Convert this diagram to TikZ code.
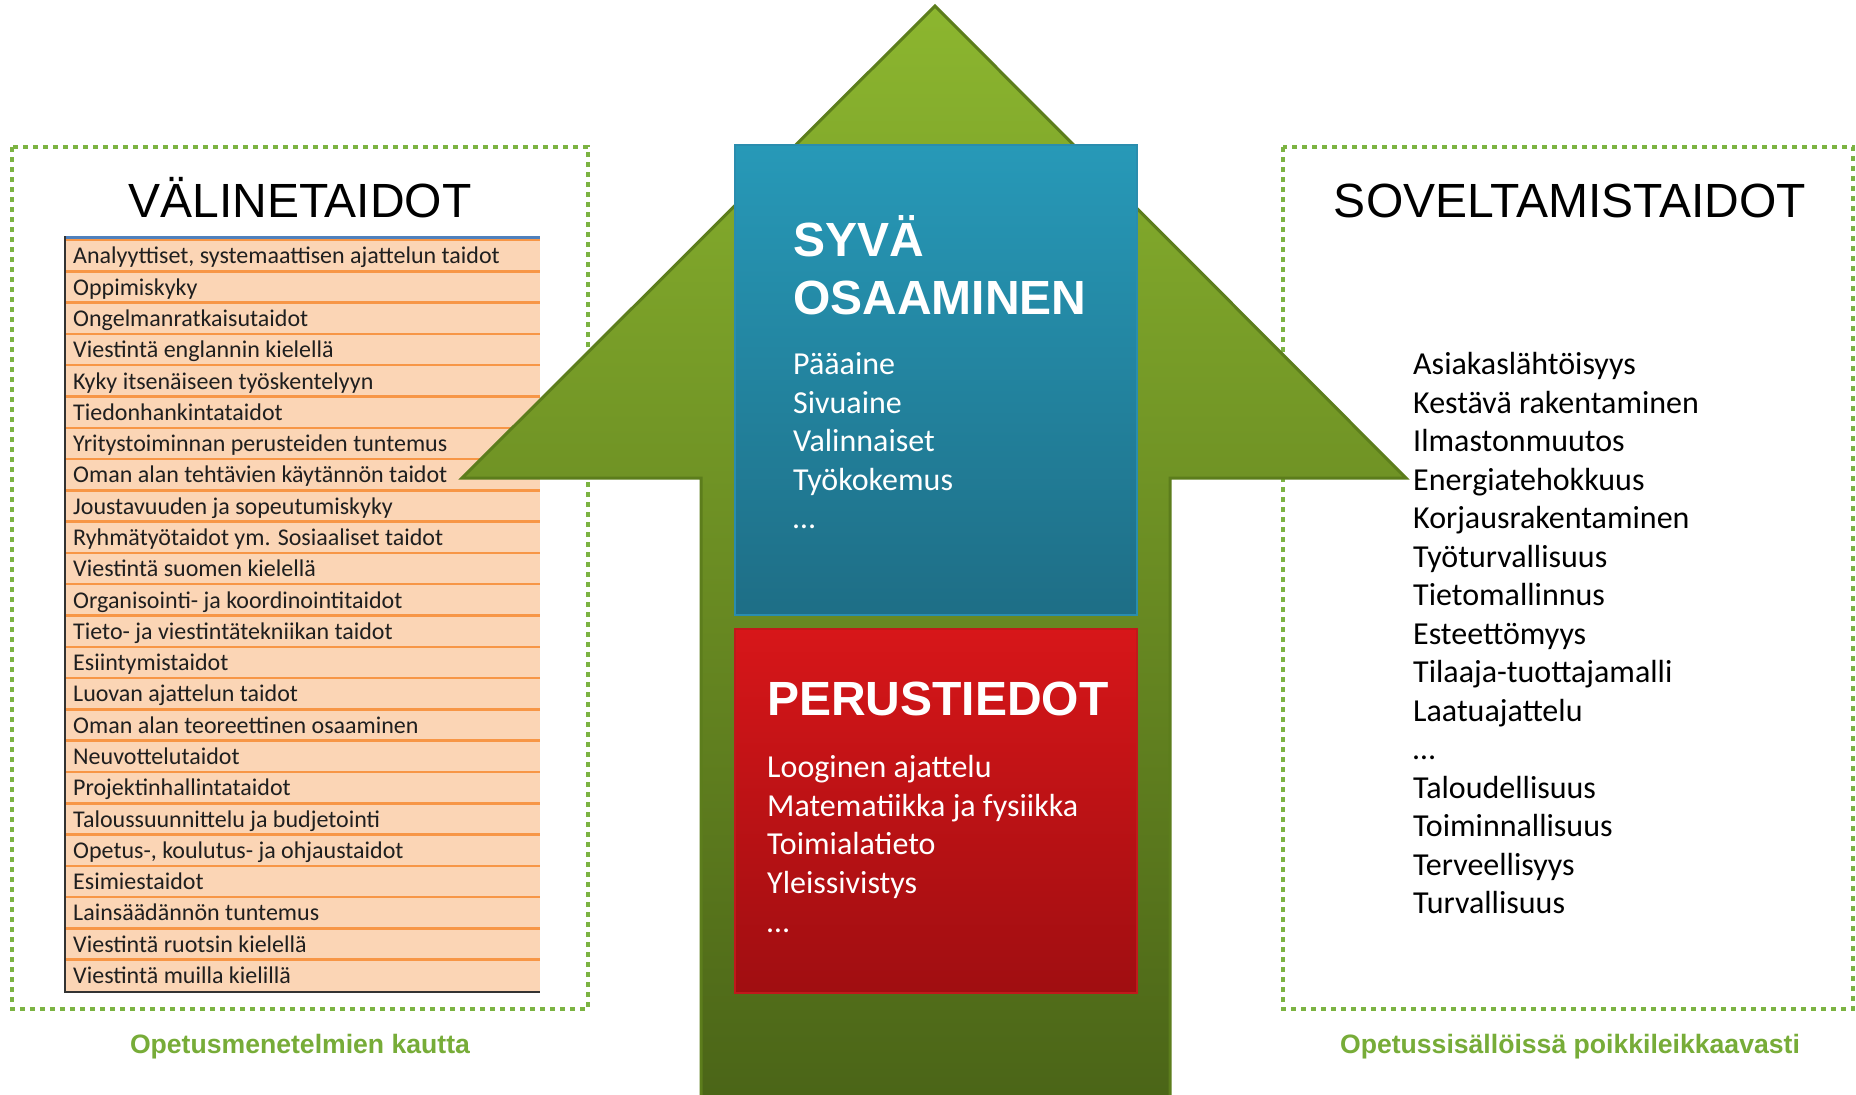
\documentclass[tikz,border=0pt]{standalone}
\usepackage{fontspec}
\setmainfont{Carlito}
\newfontfamily\arialf{Liberation Sans}
\definecolor{dotgreen}{HTML}{7CB342}
\definecolor{labgreen}{HTML}{77AC38}
\definecolor{arrtop}{HTML}{8CB62F}
\definecolor{arrmid}{HTML}{76A026}
\definecolor{arrbot}{HTML}{4A6417}
\definecolor{arredge}{HTML}{5C7D1C}
\definecolor{bluetop}{HTML}{2799B8}
\definecolor{bluebot}{HTML}{1E6E86}
\definecolor{blueedge}{HTML}{2A8DAE}
\definecolor{redtop}{HTML}{D71619}
\definecolor{redbot}{HTML}{A00E11}
\definecolor{rededge}{HTML}{C0191B}
\definecolor{peach}{HTML}{FBD5B5}
\definecolor{orangeline}{HTML}{F79646}
\definecolor{tblue}{HTML}{4F81BD}
\begin{document}
\begin{tikzpicture}[x=1pt,y=-1pt,
  dotbox/.style={draw=dotgreen,line width=4pt,dash pattern=on 5pt off 5pt},
  bigtitle/.style={anchor=base,inner sep=0pt,font=\arialf\fontsize{48}{56}\selectfont},
  boxtitle/.style={anchor=base west,inner sep=0pt,text=white,font=\arialf\bfseries\fontsize{48}{56}\selectfont},
  listitem/.style={anchor=mid west,inner sep=0pt,font=\fontsize{32}{38}\selectfont},
  rowitem/.style={anchor=mid west,inner sep=0pt,text=black!88,font=\fontsize{24}{28}\selectfont},
  greenlabel/.style={anchor=base,inner sep=0pt,text=labgreen,font=\arialf\bfseries\fontsize{26.6}{30}\selectfont},
  sepline/.style={draw=orangeline,line width=2.5pt},
]
\useasboundingbox (0,0) rectangle (1856,1095);
\fill[white] (0,0) rectangle (1856,1095);
% dotted frames
\draw[dotbox] (12,147) rectangle (588,1009);
\draw[dotbox] (1283,147) rectangle (1853,1009);
% table
\fill[peach] (65,237) rectangle (540,992);
\foreach \k in {0,...,23}{
  \draw[sepline] (65,{240.05+31.29*\k}) -- (540,{240.05+31.29*\k});
}
\draw[tblue,line width=3pt] (65,237) -- (540,237);
\draw[black!80,line width=2pt] (65,236) -- (65,992) -- (540,992);
\foreach \t [count=\i] in {{Analyyttiset, systemaattisen ajattelun taidot},Oppimiskyky,Ongelmanratkaisutaidot,Viestintä englannin kielellä,Kyky itsenäiseen työskentelyyn,Tiedonhankintataidot,Yritystoiminnan perusteiden tuntemus,Oman alan tehtävien käytännön taidot,Joustavuuden ja sopeutumiskyky,Ryhmätyötaidot ym. Sosiaaliset taidot,Viestintä suomen kielellä,Organisointi- ja koordinointitaidot,Tieto- ja viestintätekniikan taidot,Esiintymistaidot,Luovan ajattelun taidot,Oman alan teoreettinen osaaminen,Neuvottelutaidot,Projektinhallintataidot,Taloussuunnittelu ja budjetointi,{Opetus-, koulutus- ja ohjaustaidot},Esimiestaidot,Lainsäädännön tuntemus,Viestintä ruotsin kielellä,Viestintä muilla kielillä}{
  \node[rowitem] (row\i) at (73,{261.5+31.29*(\i-1)}) {\t};
}
% big arrow
\draw[top color=arrtop,middle color=arrmid,bottom color=arrbot,draw=arredge,line width=3pt,line join=miter]
  (935,6) -- (1406,478) -- (1170,478) -- (1170,1110) -- (701,1110) -- (701,478) -- (462,478) -- cycle;
% boxes
\node[draw=blueedge,line width=1.5pt,top color=bluetop,bottom color=bluebot,minimum width=402,minimum height=470,anchor=north west,inner sep=0pt] (bluebox) at (734,144) {};
\node[draw=rededge,line width=1.5pt,top color=redtop,bottom color=redbot,minimum width=402,minimum height=364,anchor=north west,inner sep=0pt] (redbox) at (734,628) {};
% titles
\node[bigtitle] (valt) at (300,217) {VÄLINETAIDOT};
\node[bigtitle] (sovt) at (1570,217) {SOVELTAMISTAIDOT};
\node[boxtitle] (syva) at (793,256) {SYVÄ};
\node[boxtitle] (osaam) at (793,314) {OSAAMINEN};
\node[boxtitle] (perus) at (767,715) {PERUSTIEDOT};
% blue list
\foreach \t [count=\i] in {Pääaine,Sivuaine,Valinnaiset,Työkokemus,…}{
  \node[listitem,text=white] (blue\i) at (793,{372.6+38.47*(\i-1)}) {\t};
}
% red list
\foreach \t [count=\i] in {Looginen ajattelu,Matematiikka ja fysiikka,Toimialatieto,Yleissivistys,…}{
  \node[listitem,text=white] (red\i) at (767,{775+38.7*(\i-1)}) {\t};
}
% right list
\foreach \t [count=\i] in {Asiakaslähtöisyys,Kestävä rakentaminen,Ilmastonmuutos,Energiatehokkuus,Korjausrakentaminen,Työturvallisuus,Tietomallinnus,Esteettömyys,Tilaaja-tuottajamalli,Laatuajattelu,…,Taloudellisuus,Toiminnallisuus,Terveellisyys,Turvallisuus}{
  \node[listitem,text=black] (sov\i) at (1413,{372.6+38.47*(\i-1)}) {\t};
}
% green labels
\node[greenlabel] (lab1) at (300,1053) {Opetusmenetelmien kautta};
\node[greenlabel] (lab2) at (1570,1053) {Opetussisällöissä poikkileikkaavasti};
\end{tikzpicture}
\end{document}
